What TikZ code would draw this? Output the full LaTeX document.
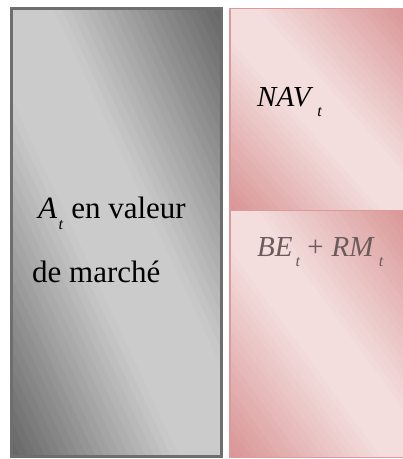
\documentclass[tikz,border=0pt]{standalone}
\usepackage{fontspec}
\setmainfont{Liberation Serif}
\usepackage{xcolor}
\definecolor{grisfonce}{HTML}{666666}
\definecolor{grisclair}{HTML}{CBCBCB}
\definecolor{grisbord}{HTML}{6E6E6E}
\definecolor{rosefonce}{HTML}{D99494}
\definecolor{roseclair}{HTML}{F3DDDD}
\definecolor{rosebord}{HTML}{DC9A9A}
\definecolor{texteBE}{HTML}{6A5C5C}
\newcommand{\indice}[2][1.5pt]{\kern#1\raisebox{-0.33em}{\fontsize{16}{16}\selectfont\textit{#2}}}
% degrade en bandes obliques : x0, y0, largeur, hauteur, fonce, clair, pente
\newcommand{\degrade}[7]{%
  \begin{scope}
    \clip (#1,#2) rectangle ++(#3,#4);
    \foreach \s in {0,0.04,...,1.97}{
      \pgfmathtruncatemacro{\p}{min(100,100*(1-abs(\s+0.02-1))/#7)}
      \fill[#6!\p!#5, shift={(#1,#2)}] ({(\s-2)*#3},{2*#4}) -- ({(\s+2)*#3},{-2*#4})
        -- ({(\s+2.05)*#3},{-2*#4}) -- ({(\s-1.95)*#3},{2*#4}) -- cycle;
    }
  \end{scope}}
\tikzset{
  actif/.style={draw=grisbord, line width=3pt},
  passif/.style={draw=rosebord, line width=1.8pt},
  texte/.style={font=\fontsize{31}{36}\selectfont, anchor=base west, inner sep=0pt},
  formule/.style={font=\fontsize{29}{34}\selectfont, anchor=base west, inner sep=0pt}
}

\begin{document}
\begin{tikzpicture}[x=1pt,y=1pt]
\useasboundingbox (0,0) rectangle (403,459);
% actif en valeur de marche
\degrade{11.5}{2.5}{210}{448}{grisfonce}{grisclair}{0.8}
\draw[actif] (11.5,2.5) rectangle (221.5,450.5);
% NAV et BE + RM
\degrade{230}{248.5}{180}{202}{rosefonce}{roseclair}{0.85}
\degrade{230}{1.5}{180}{247}{rosefonce}{roseclair}{0.85}
\draw[passif] (230,248.5) rectangle (410,450.5);
\draw[passif] (230,1.5) rectangle (410,248.5);
\node[texte] (valeur) at (38,240) {\textit{A}\indice{t} en valeur};
\node[texte] (marche) at (32,176) {de marché};
\node[formule] (nav) at (257,352) {\textit{NAV}\indice[4pt]{t}};
\node[formule, text=texteBE] (berm) at (257,202)
  {\textit{BE}\indice[3pt]{t}\hspace{7pt}+\hspace{8pt}\textit{RM}\indice[4pt]{t}};
\end{tikzpicture}
\end{document}
